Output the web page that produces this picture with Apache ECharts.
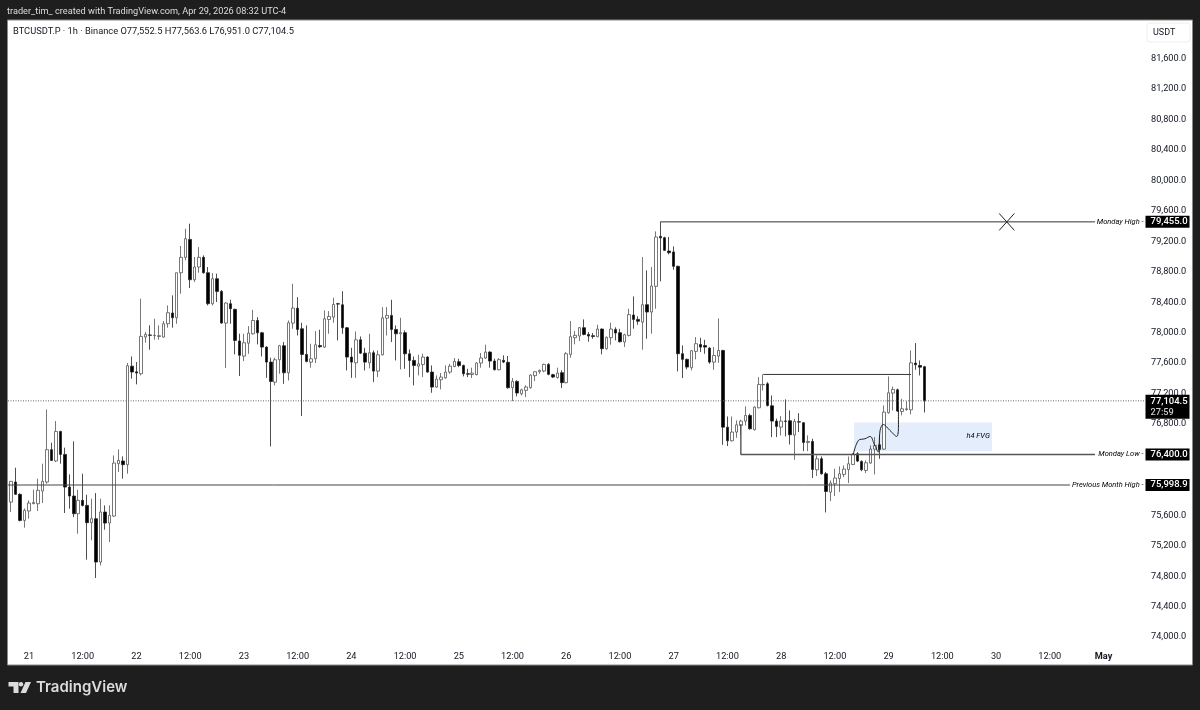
<!DOCTYPE html>
<html><head><meta charset="utf-8">
<style>html,body{margin:0;padding:0;background:#1e1e1e}#c{width:1200px;height:710px}</style>
<script src="https://cdn.jsdelivr.net/npm/echarts@6/dist/echarts.min.js"></script>
</head><body><div id="c"></div>
<script>
// Hour index of the first candle, counted from Apr 21 00:00
const firstHour = -5;
const opens = [
75990,75775,76038,75876,75534,75657,75755,75753,75920,76038,
76463,76314,76703,76401,75972,75854,75622,75797,75731,75504,
75556,74987,75644,75499,75591,76279,76314,76266,77560,77485,
77461,77942,77970,77960,77950,77942,78117,78258,78196,78787,
78989,79225,78695,78862,78989,78787,78380,78708,78542,78126,
78380,78306,77890,77692,77862,77985,78160,77998,77810,77613,
77350,77644,77828,77473,78125,78322,78051,77714,77613,77657,
77830,77810,78173,78204,78380,78366,78064,77679,77604,77906,
77731,77604,77736,77495,77709,78190,78226,78042,77985,78000,
77722,77635,77560,77582,77679,77482,77285,77381,77407,77482,
77556,77617,77569,77460,77450,77448,77601,77667,77745,77627,
77513,77636,77610,77277,77360,77198,77242,77277,77435,77487,
77496,77583,77448,77410,77474,77343,77715,77934,77956,78065,
77977,77960,77947,78047,77789,77934,78043,77999,77877,77964,
78231,78174,78139,78367,78271,78608,79265,79247,79072,79060,
78871,77723,77649,77540,77754,77845,77830,77797,77613,77692,
77766,76759,76580,76694,76781,76838,76913,76725,77013,77315,
77328,77040,76838,76759,76840,76843,76655,76830,76816,76558,
76571,76199,76343,76146,75905,76015,76085,76138,76203,76269,
76409,76309,76190,76287,76470,76527,76470,76948,77206,77250,
76965,76990,76987,77600,77569,77552.5];
const highs = [
76010,76047,76226,75890,75690,75797,75937,76082,76279,76992,
76554,76839,76710,76489,76139,76572,75937,76147,75871,75819,
75893,75819,75731,75731,76388,76467,76375,77601,77688,77614,
78446,78008,78096,78183,78096,78152,78358,78490,78787,79138,
79365,79431,78993,79124,79015,78862,78783,78775,78560,78400,
78433,78315,77986,77985,78086,78300,78204,78010,77820,77670,
77670,77840,77876,78160,78642,78467,78130,78095,77854,78020,
78038,78292,78283,78458,78392,78545,78075,77801,78016,77950,
77801,77985,77766,77766,78335,78335,78432,78095,78195,78030,
77779,77687,77709,77722,77690,77569,77438,77470,77569,77590,
77666,77657,77580,77525,77540,77610,77732,77842,77755,77658,
77665,77702,77693,77404,77375,77264,77308,77452,77490,77515,
77592,77600,77460,77540,77505,77745,78152,78021,78075,78174,
78008,77995,78104,78055,77950,78131,78070,78050,77985,78314,
78476,78215,78993,78818,78862,79330,79455,79260,79256,79133,
78880,77833,77660,77770,77942,77933,77906,77810,77810,78187,
77775,76899,76899,76847,76855,77031,76935,77030,77416,77451,
77350,77175,76870,76904,77123,76978,76869,76943,76825,76650,
76606,76387,76375,76170,76059,76212,76243,76256,76374,76418,
76430,76322,76322,76519,76628,76640,77044,77425,77293,77265,
77132,77100,77766,77863,77635,77563.6];
const lows = [
75760,75644,75870,75520,75438,75556,75745,75657,75762,76016,
76314,76300,76279,75631,75688,75578,75359,75718,75018,75272,
74777,74943,75412,75250,75578,76169,76082,76147,77395,77321,
77439,77868,77776,77907,77907,77934,78065,78065,78117,78511,
78950,78586,78665,78787,78775,78358,78358,78402,78117,77535,
78117,77715,77430,77626,77722,77975,77845,77687,77407,76505,
77307,77460,77328,77372,78051,77963,76904,77610,77539,77600,
77800,77800,77985,78130,77898,77985,77504,77407,77407,77720,
77504,77530,77350,77416,77700,77963,77876,77635,77517,77525,
77416,77307,77438,77416,77475,77210,77275,77254,77395,77460,
77545,77547,77425,77416,77404,77440,77540,77655,77540,77505,
77505,77600,77264,77102,77163,77176,77154,77265,77364,77460,
77480,77440,77404,77395,77272,77335,77671,77846,77890,77965,
77881,77920,77940,77715,77775,77842,77899,77870,77811,77950,
78052,78104,77776,77920,77986,78314,78673,79072,79028,78827,
77491,77404,77518,77505,77649,77744,77723,77591,77512,77604,
76527,76510,76570,76619,76650,76781,76725,76715,77005,77240,
77030,76628,76628,76650,76637,76532,76330,76694,76444,76444,
76090,76116,76135,75638,75787,75853,75906,76103,76024,76260,
76300,76180,76155,76278,76138,76343,76460,76935,76978,76960,
76913,76975,76926,77512,77438,76951];
const closes = [
75780,76047,75876,75534,75666,75762,75770,75928,76047,76463,
76322,76703,76401,75972,75854,75622,75797,75731,75504,75556,
74987,75644,75499,75600,76287,76322,76266,77566,77483,77470,
77951,77977,77965,77965,77960,78117,78262,78196,78787,78989,
79234,78695,78862,78989,78787,78380,78708,78542,78126,78389,
78315,77898,77702,77867,77994,78160,77998,77810,77613,77359,
77644,77828,77473,78130,78322,78042,77714,77622,77657,77841,
77815,78182,78213,78370,78375,78064,77679,77613,77906,77731,
77613,77736,77495,77709,78195,78226,78042,77985,78000,77722,
77635,77569,77590,77679,77482,77285,77390,77416,77482,77560,
77622,77569,77460,77455,77468,77601,77667,77745,77627,77513,
77645,77614,77277,77360,77207,77250,77286,77443,77487,77505,
77583,77452,77417,77470,77343,77723,77947,77964,78065,77977,
77955,77950,78047,77789,77938,78047,77995,77881,77973,78236,
78174,78150,78367,78271,78612,79256,79245,79081,79050,78871,
77723,77649,77548,77763,77855,77810,77810,77613,77700,77766,
76759,76580,76694,76790,76838,76913,76737,77022,77320,77320,
77044,76838,76768,76838,76835,76659,76834,76825,76558,76571,
76203,76343,76146,75914,76024,76090,76146,76208,76278,76400,
76313,76199,76291,76470,76519,76466,76956,77210,77254,76970,
77000,77000,77604,77578,77547,77104.5];

const priceTicks = [74000,74400,74800,75200,75600,76000,76400,76800,77200,77600,78000,78400,78800,79200,79600,80000,80400,80800,81200,81600];
const timeTickHours = [0,12,24,36,48,60,72,84,96,108,120,132,144,156,168,180,192,204,216,228,240];
const timeTickLabels = ['21','12:00','22','12:00','23','12:00','24','12:00','25','12:00','26','12:00','27','12:00','28','12:00','29','12:00','30','12:00','May'];

const lastPrice = 77104.5;
const countdown = '27:59';
const levelNames = ['Monday High','Monday Low','Previous Month High'];
const levelPrices = [79455.0,76400.0,75998.9];
const levelStartHours = [141,159,null];
const levelEndHours = [238.1,238.1,232.5];
const mondayLowStem = 76800;
const rangeTopPrice = 77451, rangeTopHours = [164,197];
const fvgHours = [184.3,215.1], fvgPrices = [76441,76821], fvgLabelPoint = [212,76637];
const crossHours = [216.7,220.1], crossPrices = [79566,79343];
const pathHours  = [184.1,185.25,186.7,187.9,188.75,189.7,190.1,190.8,192.3,193.8,194.2,194.2];
const pathPrices = [76400,76584,76606,76637,76540,76431,76716,76794,76716,76637,76759,76978];

const xMin = -4.69, xMax = 249.27, yMin = 73900, yMax = 82100;
const FONT = 'Roboto', INK = '#131722';
const fmt = v => v.toLocaleString('en-US',{minimumFractionDigits:1,maximumFractionDigits:1});

const candles = opens.map((o,i)=>[firstHour+i,o,closes[i],lows[i],highs[i]]);
const flatLine = (name,data,color,width,type) => ({
  name,type:'line',data,showSymbol:false,symbol:'none',silent:true,z:3,animation:false,
  lineStyle:{color,width,type:type||'solid',cap:'butt'}
});
const tag = (price,text,extra) => ({
  value:[xMax,price],
  label:Object.assign({show:true,position:'right',distance:0,formatter:text,color:'#fff',backgroundColor:'#000',
    fontFamily:FONT,fontSize:9.5,fontWeight:500,width:39,height:10,lineHeight:10,padding:[1,0,1,5],align:'left'},extra||{})
});
const anchorSeries = (name,data) => ({name,type:'scatter',symbolSize:1,itemStyle:{color:'transparent',opacity:1},clip:false,silent:true,z:6,data});

const option = {
  animation:false,
  backgroundColor:'#1e1e1e',
  textStyle:{fontFamily:FONT},
  title:[
    {text:'trader_tim_ created with TradingView.com, Apr 29, 2026 08:32 UTC-4',left:7,top:7,padding:0,textStyle:{color:'#dddddd',fontSize:9.2,fontWeight:'normal',fontFamily:FONT}},
    {text:'BTCUSDT.P · 1h · Binance O77,552.5 H77,563.6 L76,951.0 C77,104.5',left:13,top:27,padding:0,textStyle:{color:INK,fontSize:9.3,fontWeight:'normal',fontFamily:FONT}}
  ],
  graphic:[
    {type:'rect',z:-1,silent:true,shape:{x:7.5,y:20,width:1185,height:645},style:{fill:'#fff',stroke:'#8a8a8a',lineWidth:1}},
    {type:'rect',z:7,silent:true,shape:{x:1147,y:23,width:43,height:19,r:3},style:{fill:'#fff',stroke:'#eeeeee',lineWidth:1}},
    {type:'text',z:8,silent:true,x:1153,y:28,style:{text:'USDT',fill:INK,fontSize:9,fontFamily:FONT}},
    {type:'polygon',silent:true,shape:{points:[[8.5,682],[18.5,682],[18.5,693],[13.5,693],[13.5,686.5],[8.5,686.5]]},style:{fill:'#dcdcdc'}},
    {type:'circle',silent:true,shape:{cx:21,cy:684.2,r:2.2},style:{fill:'#dcdcdc'}},
    {type:'polygon',silent:true,shape:{points:[[25.5,682],[31,682],[26,693],[20.5,693]]},style:{fill:'#dcdcdc'}},
    {type:'text',silent:true,x:36,y:680,style:{text:'TradingView',fill:'#dcdcdc',fontSize:15,fontWeight:600,fontFamily:'Inter'}}
  ],
  grid:{left:8,top:20.5,width:1137,height:624.3,containLabel:false},
  xAxis:{type:'value',min:xMin,max:xMax,
    axisLine:{show:false},axisTick:{show:false},splitLine:{show:false},
    axisLabel:{customValues:timeTickHours,margin:7,color:INK,fontSize:9.2,fontFamily:FONT,
      formatter:v=>{const l=timeTickLabels[timeTickHours.indexOf(v)];return l==='May'?'{b|May}':l;},
      rich:{b:{fontWeight:'bold',fontSize:9.2,color:INK,fontFamily:FONT}}}},
  yAxis:{type:'value',position:'right',min:yMin,max:yMax,scale:true,
    axisLine:{show:false},axisTick:{show:false},splitLine:{show:false},
    axisLabel:{customValues:priceTicks,margin:6,padding:[2,0,0,0],color:INK,fontSize:9.2,fontFamily:FONT,formatter:v=>fmt(v)}},
  series:[
    {name:'FVG',type:'line',data:[],silent:true,z:1,
      markArea:{silent:true,itemStyle:{color:'#e3edfc'},
        data:[[{coord:[fvgHours[0],fvgPrices[0]]},{coord:[fvgHours[1],fvgPrices[1]]}]]}},
    {name:'BTCUSDT.P',type:'candlestick',z:2,clip:true,barWidth:3,silent:true,
      encode:{x:0,y:[1,2,3,4]},data:candles,
      itemStyle:{color:'#ffffff',color0:'#000000',borderColor:'#555555',borderColor0:'#222222',borderWidth:0.8}},
    flatLine('last',[[xMin,lastPrice],[xMax,lastPrice]],'#666666',1,[1,1.5]),
    flatLine(levelNames[0],[[levelStartHours[0],levelPrices[0]],[levelEndHours[0],levelPrices[0]]],'#333333',1),
    flatLine(levelNames[1],[[levelStartHours[1],mondayLowStem],[levelStartHours[1],levelPrices[1]],[levelEndHours[1],levelPrices[1]]],'#555555',1.4),
    flatLine(levelNames[2],[[xMin,levelPrices[2]],[levelEndHours[2],levelPrices[2]]],'#444444',1),
    flatLine('range',[[rangeTopHours[0],rangeTopPrice],[rangeTopHours[1],rangeTopPrice]],'#333333',1),
    flatLine('crossA',[[crossHours[0],crossPrices[0]],[crossHours[1],crossPrices[1]]],'#222222',1),
    flatLine('crossB',[[crossHours[0],crossPrices[1]],[crossHours[1],crossPrices[0]]],'#222222',1),
    Object.assign(flatLine('path',pathHours.map((h,i)=>[h,pathPrices[i]]),'#222222',1),{smooth:0.35,z:4}),
    anchorSeries('tags',[
      tag(levelPrices[0],fmt(levelPrices[0])),
      tag(levelPrices[1],fmt(levelPrices[1])),
      tag(levelPrices[2],fmt(levelPrices[2])),
      tag(lastPrice,'{a|'+fmt(lastPrice)+'}\n{b|'+countdown+'}',{height:22,lineHeight:11,offset:[0,6],
        rich:{a:{color:'#fff',fontSize:9.5,fontWeight:500,fontFamily:FONT,lineHeight:11},b:{color:'#cccccc',fontSize:9.2,fontFamily:FONT,lineHeight:11}}})
    ]),
    anchorSeries('names',levelNames.map((n,i)=>({value:[xMax,levelPrices[i]],
      label:{show:true,position:'left',distance:1,formatter:n+' -',color:'#000',fontFamily:FONT,fontStyle:'italic',fontSize:7.5}}))),
    anchorSeries('fvgName',[{value:fvgLabelPoint,
      label:{show:true,position:'inside',formatter:'h4 FVG',color:'#000',fontFamily:FONT,fontStyle:'italic',fontSize:7.5}}])
  ]
};
echarts.init(document.getElementById('c'),null,{renderer:'canvas'}).setOption(option);
</script>
</body></html>
